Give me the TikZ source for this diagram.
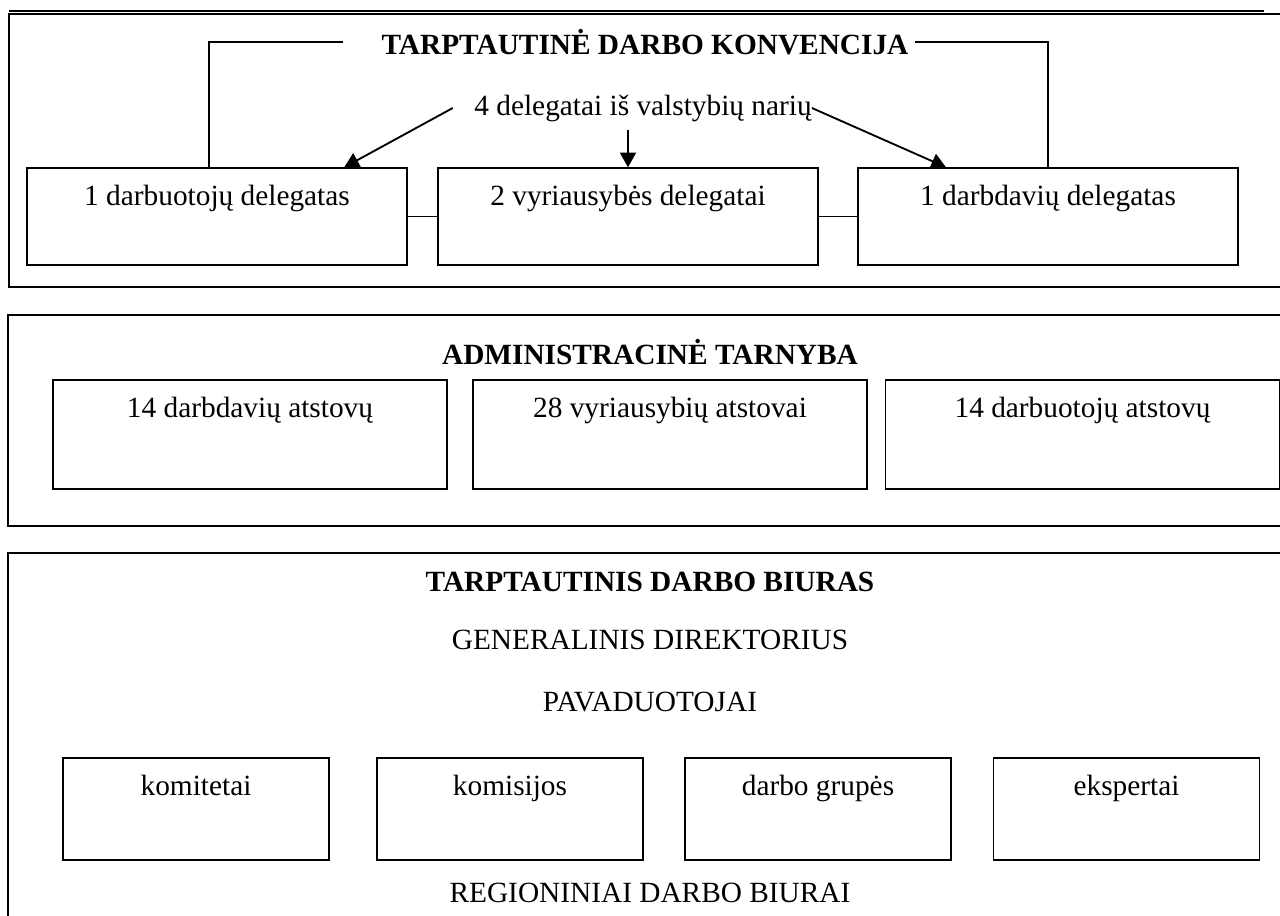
\documentclass[tikz,border=0pt]{standalone}
\usepackage{fontspec}
\setmainfont{Liberation Serif}
\usetikzlibrary{arrows.meta,positioning}
\tikzset{
  frame/.style={draw,line width=1.6pt},
  unit/.style={draw,line width=1.1pt,minimum width=285pt,minimum height=72.75pt,inner sep=0pt},
  seat/.style={draw,line width=1.1pt,minimum width=295.5pt,minimum height=81.75pt,inner sep=0pt},
  part/.style={draw,line width=1.1pt,minimum width=199.5pt,minimum height=76.5pt,inner sep=0pt},
  inlbl/.style={below=13pt,inner sep=0pt},
  ttl/.style={font=\fontsize{22}{26}\selectfont\bfseries,inner sep=0pt},
  txt/.style={inner sep=0pt},
  link/.style={line width=0.9pt},
  arr/.style={-{Triangle[length=11pt,width=12pt]},line width=1.4pt},
  every node/.style={font=\fontsize{22}{26}\selectfont}
}

\begin{document}
\begin{tikzpicture}[x=0.75pt,y=-0.75pt]
\useasboundingbox (0,0) rectangle (1280,916);
\clip (0,0) rectangle (1280,916);
% konvencija
\draw[line width=0.9pt] (9,11) -- (1264,11);
\draw[frame] (9,14) rectangle (1295,287);
\node[ttl] (conv) at (645,42) {TARPTAUTINĖ DARBO KONVENCIJA};
\node[txt] (dlg) at (643,108) {4 delegatai iš valstybių narių};
\node[unit,label={[inlbl]north:1 darbuotojų delegatas}] (d1) at (217,216.5) {};
\node[unit,label={[inlbl]north:2 vyriausybės delegatai}] (d2) at (628,216.5) {};
\node[unit,label={[inlbl]north:1 darbdavių delegatas}] (d3) at (1048,216.5) {};
\coordinate (cl) at (343,42);
\coordinate (cr) at (915,42);
\draw[link] (cl) -| ([xshift=-6pt]d1.north);
\draw[link] (cr) -| (d3.north);
\draw[link] (d1) -- (d2);
\draw[link] (d2) -- (d3);
\draw[arr] ([xshift=-16pt]dlg.west) -- ([xshift=238.5pt]d1.north west);
\draw[arr] (dlg.south -| d2.north) ++(0,8) -- (d2.north);
\draw[arr] (dlg.east) -- ([xshift=-76.5pt]d3.north);
% administracija
\draw[frame] (8,315) rectangle (1295,526);
\node[ttl] (adm) at (650,352) {ADMINISTRACINĖ TARNYBA};
\node[seat,label={[inlbl]north:14 darbdavių atstovų}] (a1) at (250,434.5) {};
\node[seat,label={[inlbl]north:28 vyriausybių atstovai}] (a2) at (670,434.5) {};
\node[seat,label={[inlbl]north:14 darbuotojų atstovų}] (a3) at (1082.5,434.5) {};
% biuras
\draw[frame] (8,553) rectangle (1295,940);
\node[ttl] (bur) at (650,582) {TARPTAUTINIS DARBO BIURAS};
\node[txt] (gen) at (650,640) {GENERALINIS DIREKTORIUS};
\node[txt] (pav) at (650,702) {PAVADUOTOJAI};
\node[part,label={[inlbl]north:komitetai}] (b1) at (196,809) {};
\node[part,label={[inlbl]north:komisijos}] (b2) at (510,809) {};
\node[part,label={[inlbl]north:darbo grupės}] (b3) at (818,809) {};
\node[part,label={[inlbl]north:ekspertai}] (b4) at (1126.5,809) {};
\node[txt] (reg) at (650,893) {REGIONINIAI DARBO BIURAI};
\end{tikzpicture}
\end{document}
